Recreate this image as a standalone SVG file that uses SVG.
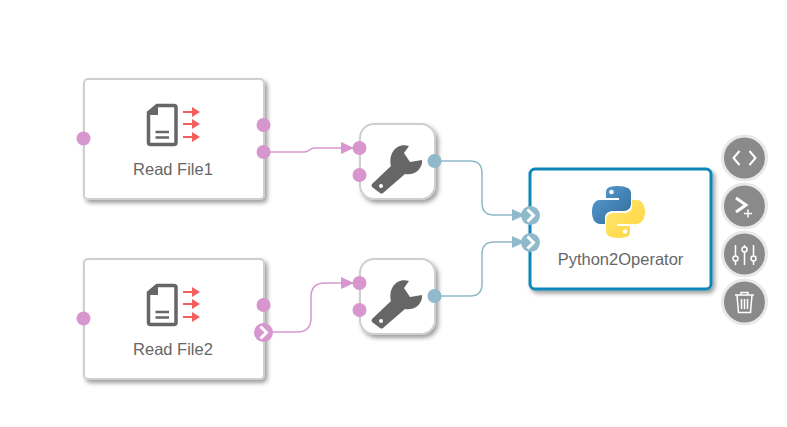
<svg xmlns="http://www.w3.org/2000/svg" width="787" height="427" viewBox="0 0 787 427">
<style>
.card{fill:#fff;stroke:#cfcfcf;stroke-width:2}
.lbl{font-family:"Liberation Sans",Arial,sans-serif;font-size:16.5px;fill:#666;text-anchor:middle}
.pp{fill:#d896cf}.pb{fill:#90b9c9}
.cp{fill:none;stroke:#d896cf;stroke-width:1.5}
.cb{fill:none;stroke:#90b9c9;stroke-width:1.5}
.chev{fill:none;stroke:#fff;stroke-width:3}
.tb{fill:#8a8a8a;stroke:#e8e8e8;stroke-width:3}
.ti{fill:none;stroke:#fff;stroke-width:1.5}
.ic{fill:none;stroke:#666;stroke-width:3.5}
.ra{fill:none;stroke:#f25f5c;stroke-width:2}
</style>
<defs>
<filter id="sh" x="-20%" y="-20%" width="150%" height="150%"><feDropShadow dx="2.500" dy="3" stdDeviation="2" flood-color="#000" flood-opacity=".38"/></filter>
<marker id="mp" markerWidth="13" markerHeight="14" refX="12" refY="7" markerUnits="userSpaceOnUse" orient="auto"><path d="M0 1L13 7L0 13Z" fill="#d896cf"/></marker>
<marker id="mb" markerWidth="13" markerHeight="14" refX="12" refY="7" markerUnits="userSpaceOnUse" orient="auto"><path d="M0 1L13 7L0 13Z" fill="#90b9c9"/></marker>
<linearGradient id="py1" x1="0" y1="0" x2="1" y2="1"><stop offset="0" stop-color="#5a9fd4"/><stop offset="1" stop-color="#306998"/></linearGradient>
<linearGradient id="py2" x1="0" y1="0" x2="1" y2="1"><stop offset="0" stop-color="#ffe873"/><stop offset="1" stop-color="#ffd43b"/></linearGradient>
<g id="file">
<path d="M-13.500 -15.500L-5 -22.500H12Q14 -22.500 14 -20.500V14.500Q14 16.500 12 16.500H-11.500Q-13.500 16.500 -13.500 14.500Z" class="ic"/>
<path d="M-15 -13L-4 -24V-13Z" fill="#666"/>
<path d="M-6.500 4H7M-6.500 9.500H7" class="ic" style="stroke-width:2.500"/>
<path d="M21 -16H31M21 -4H31M21 9H31" class="ra"/>
<path d="M30 -21L38 -16L30 -11ZM30 -9L38 -4L30 1ZM30 4L38 9L30 14Z" fill="#f25f5c"/>
</g>
<g id="wrench">
<path d="M-26 23L-7 5C-10 -8 -1 -19 11 -15L6 -8L12 1L24 -1C25 8 16 15 7 13L-15 32Q-16.500 33 -18 32L-26 26Q-27 24.500 -26 23Z" fill="#666"/>
<circle cx="-17" cy="25" r="2" fill="#fff"/>
</g>
<path id="chevron" d="M-3 -6L3 0L-3 6" class="chev"/>
</defs>
<rect width="787" height="427" fill="#fff"/>
<g id="connectors">
<path class="cp" d="M263 152H304C311 152 308 148 315 148H353" marker-end="url(#mp)"/>
<path class="cp" d="M263 332H297Q311 332 311 318V297Q311 283 325 283H353" marker-end="url(#mp)"/>
<path class="cb" d="M434 161H470Q482 161 482 173V203Q482 215 494 215H524" marker-end="url(#mb)"/>
<path class="cb" d="M434 296H470Q482 296 482 284V254Q482 242 494 242H524" marker-end="url(#mb)"/>
</g>
<g id="read-file-1">
<rect class="card" x="84" y="79" width="180" height="120" rx="4" filter="url(#sh)"/>
<use href="#file" x="162" y="128"/>
<text class="lbl" x="173" y="175">Read File1</text>
<circle class="pp" cx="83.500" cy="138.500" r="7"/><circle class="pp" cx="263.500" cy="125" r="7"/><circle class="pp" cx="263.500" cy="152" r="7"/>
</g>
<g id="read-file-2">
<rect class="card" x="84" y="259" width="180" height="120" rx="4" filter="url(#sh)"/>
<use href="#file" x="162" y="308"/>
<text class="lbl" x="173" y="355">Read File2</text>
<circle class="pp" cx="83.500" cy="318.500" r="7"/><circle class="pp" cx="263.500" cy="305" r="7"/><circle class="pp" cx="263.500" cy="332.500" r="9.500"/>
<use href="#chevron" x="263.500" y="332.500"/>
</g>
<g id="tool-1">
<rect class="card" x="360" y="124" width="75" height="75" rx="14" filter="url(#sh)"/>
<use href="#wrench" x="398" y="161"/>
<circle class="pp" cx="359.500" cy="148" r="7"/><circle class="pp" cx="359.500" cy="175" r="7"/><circle class="pb" cx="434.500" cy="161" r="7"/>
</g>
<g id="tool-2">
<rect class="card" x="360" y="259" width="75" height="75" rx="14" filter="url(#sh)"/>
<use href="#wrench" x="398" y="296"/>
<circle class="pp" cx="359.500" cy="283" r="7"/><circle class="pp" cx="359.500" cy="310" r="7"/><circle class="pb" cx="434.500" cy="296" r="7"/>
</g>
<g id="python-operator">
<rect x="530" y="169" width="181" height="120" rx="5" fill="#fff" stroke="#0f87b8" stroke-width="3" filter="url(#sh)"/>
<path d="M617 186C606 186 606 190 606 193V198H619V200H600C594 200 592 206 592 212C592 219 595 224 600 224H605V218C605 213 609 211 613 211H624C628 211 631 208 631 204V193C631 189 627 186 617 186Z" fill="url(#py1)"/>
<circle cx="611.500" cy="192" r="2.300" fill="#fff"/>
<path d="M619 238C630 238 630 234 630 231V226H617V224H636C642 224 645 218 645 212C645 205 642 200 637 200H632V206C632 211 628 213 624 213H613C609 213 606 216 606 220V231C606 235 609 238 619 238Z" fill="url(#py2)"/>
<circle cx="625" cy="231.500" r="2.300" fill="#fff"/>
<text class="lbl" x="620.500" y="265">Python2Operator</text>
<circle class="pb" cx="530.500" cy="215.500" r="9.500"/><use href="#chevron" x="530.500" y="215.500"/>
<circle class="pb" cx="530.500" cy="242.500" r="9.500"/><use href="#chevron" x="530.500" y="242.500"/>
</g>
<g id="btn-code">
<circle class="tb" cx="744.500" cy="158" r="22"/>
<path class="ti" style="stroke-width:2" d="M739.500 151L733.500 158L739.500 165M749.500 151L755.500 158L749.500 165"/>
</g>
<g id="btn-console">
<circle class="tb" cx="744.500" cy="206" r="22"/>
<path class="ti" style="stroke-width:3" d="M736 198L746 205L736 212"/>
<path class="ti" d="M744 213.500H752M748 209.500V217.500"/>
</g>
<g id="btn-sliders">
<circle class="tb" cx="744.500" cy="254" r="22"/>
<path class="ti" d="M735.500 245V256M735.500 261V265M744.500 245V247M744.500 252V265M753.500 245V256M753.500 261V265"/>
<circle cx="735.500" cy="258.500" r="2.500" class="ti"/><circle cx="744.500" cy="249.500" r="2.500" class="ti"/><circle cx="753.500" cy="258.500" r="2.500" class="ti"/>
</g>
<g id="btn-trash">
<circle class="tb" cx="744.500" cy="302" r="22"/>
<path class="ti" d="M735 295H754M741 295V292.500H748V295M737 295L738.500 312.500H750.500L752 295M741.500 299V309M744.500 299V309M747.500 299V309"/>
</g>
</svg>
